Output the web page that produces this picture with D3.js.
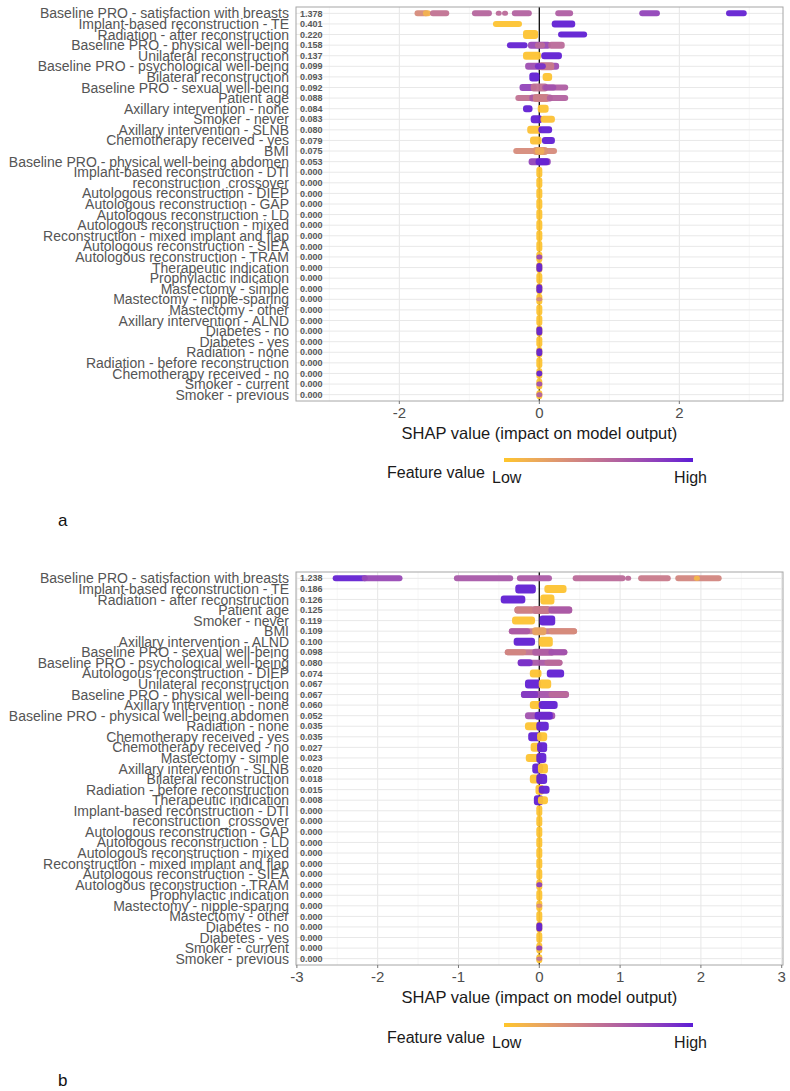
<!DOCTYPE html>
<html><head><meta charset="utf-8">
<script src="https://cdn.jsdelivr.net/npm/d3@7"></script>
<style>html,body{margin:0;padding:0;background:#fff}svg{display:block}</style>
</head><body>
<svg id="chart" width="790" height="1091"></svg>
<script>
// ---------- DATA ----------
const topFeatures = ["Baseline PRO - satisfaction with breasts","Implant-based reconstruction - TE","Radiation - after reconstruction","Baseline PRO - physical well-being","Unilateral reconstruction","Baseline PRO - psychological well-being","Bilateral reconstruction","Baseline PRO - sexual well-being","Patient age","Axillary intervention - none","Smoker - never","Axillary intervention - SLNB","Chemotherapy received - yes","BMI","Baseline PRO - physical well-being abdomen","Implant-based reconstruction - DTI","reconstruction_crossover","Autologous reconstruction - DIEP","Autologous reconstruction - GAP","Autologous reconstruction - LD","Autologous reconstruction - mixed","Reconstruction - mixed implant and flap","Autologous reconstruction - SIEA","Autologous reconstruction - TRAM","Therapeutic indication","Prophylactic indication","Mastectomy - simple","Mastectomy - nipple-sparing","Mastectomy - other","Axillary intervention - ALND","Diabetes - no","Diabetes - yes","Radiation - none","Radiation - before reconstruction","Chemotherapy received - no","Smoker - current","Smoker - previous"];
const topImportance = [1.378,0.401,0.220,0.158,0.137,0.099,0.093,0.092,0.088,0.084,0.083,0.080,0.079,0.075,0.053,0,0,0,0,0,0,0,0,0,0,0,0,0,0,0,0,0,0,0,0,0,0];
// clusters: [row, shapFrom, shapTo, featureValue(0 low..1 high), thickness]
const topClusters = [
 [15,0,0,0.02,11],[16,0,0,0.02,11],[17,0,0,0.02,11],[18,0,0,0.02,11],[19,0,0,0.02,11],[20,0,0,0.02,11],[21,0,0,0.02,11],[22,0,0,0.02,11],[23,0,0,0.02,11],[24,0,0,0.02,11],[25,0,0,0.02,11],[26,0,0,0.02,11],[27,0,0,0.02,11],[28,0,0,0.02,11],[29,0,0,0.02,11],[30,0,0,0.02,11],[31,0,0,0.02,11],[32,0,0,0.02,11],[33,0,0,0.02,11],[34,0,0,0.02,11],[35,0,0,0.02,11],[36,0,0,0.02,9],
 [0,-1.74,-1.62,0.35,6],[0,-1.62,-1.59,0.12,6],[0,-1.52,-1.33,0.5,6],[0,-0.92,-0.72,0.58,6],[0,-0.58,-0.58,0.55,5],[0,-0.49,-0.49,0.55,5],[0,-0.35,-0.15,0.6,6],[0,0.27,0.44,0.62,6],[0,1.47,1.68,0.78,6],[0,2.71,2.92,0.97,6],
 [1,-0.62,-0.29,0.02,6],[1,0.22,0.47,0.98,7],
 [2,-0.19,-0.06,0.02,9],[2,0.31,0.64,0.98,6],
 [3,-0.42,-0.21,0.97,6],[3,-0.12,0.12,0.75,7],[3,-0.02,0.04,0.55,6],[3,0.17,0.32,0.55,7],
 [4,-0.19,-0.02,0.02,8],[4,0.07,0.28,0.98,7],
 [5,-0.16,0.24,0.72,7],[5,0.03,0.17,0.45,8],[5,-0.02,0.05,0.9,6],
 [6,-0.10,-0.04,0.98,9],[6,0.09,0.14,0.02,8],
 [7,-0.24,-0.08,0.78,7],[7,-0.08,0.08,0.5,8],[7,0.08,0.37,0.62,6],[7,0.1,0.2,0.7,6],
 [8,-0.30,-0.1,0.5,6],[8,-0.1,0.15,0.65,7],[8,-0.05,0.1,0.42,8],[8,0.15,0.37,0.6,6],
 [9,-0.19,-0.14,0.98,7],[9,0.02,0.09,0.02,8],
 [10,-0.08,0.0,0.98,8],[10,0.06,0.18,0.03,7],
 [11,-0.13,-0.01,0.03,8],[11,0.03,0.14,0.98,7],
 [12,-0.09,-0.01,0.03,8],[12,0.08,0.18,0.98,7],
 [13,-0.33,0.21,0.35,6],[13,-0.05,0.08,0.3,8],[13,-0.02,0.03,0.15,7],
 [14,-0.11,0.12,0.78,7],[14,-0.01,0.1,0.97,7],
 [23,0,0,0.75,5],[24,0,0,0.97,9],[26,0,0,0.97,9],[27,0,0,0.35,4],[30,0,0,0.97,9],[32,0,0,0.97,8],[34,0,0,0.97,6],[35,0,0,0.7,5],[36,0,0,0.6,5]
];
const topTicks = [-2,0,2];
const topMinorTicks = [-3,-1,1,3];

const bottomFeatures = ["Baseline PRO - satisfaction with breasts","Implant-based reconstruction - TE","Radiation - after reconstruction","Patient age","Smoker - never","BMI","Axillary intervention - ALND","Baseline PRO - sexual well-being","Baseline PRO - psychological well-being","Autologous reconstruction - DIEP","Unilateral reconstruction","Baseline PRO - physical well-being","Axillary intervention - none","Baseline PRO - physical well-being abdomen","Radiation - none","Chemotherapy received - yes","Chemotherapy received - no","Mastectomy - simple","Axillary intervention - SLNB","Bilateral reconstruction","Radiation - before reconstruction","Therapeutic indication","Implant-based reconstruction - DTI","reconstruction_crossover","Autologous reconstruction - GAP","Autologous reconstruction - LD","Autologous reconstruction - mixed","Reconstruction - mixed implant and flap","Autologous reconstruction - SIEA","Autologous reconstruction - TRAM","Prophylactic indication","Mastectomy - nipple-sparing","Mastectomy - other","Diabetes - no","Diabetes - yes","Smoker - current","Smoker - previous"];
const bottomImportance = [1.238,0.186,0.126,0.125,0.119,0.109,0.100,0.098,0.080,0.074,0.067,0.067,0.060,0.052,0.035,0.035,0.027,0.023,0.020,0.018,0.015,0.008,0,0,0,0,0,0,0,0,0,0,0,0,0,0,0];
const bottomClusters = [
 [22,0,0,0.02,11],[23,0,0,0.02,11],[24,0,0,0.02,11],[25,0,0,0.02,11],[26,0,0,0.02,11],[27,0,0,0.02,11],[28,0,0,0.02,11],[29,0,0,0.02,11],[30,0,0,0.02,11],[31,0,0,0.02,11],[32,0,0,0.02,11],[33,0,0,0.02,11],[34,0,0,0.02,11],[35,0,0,0.02,11],[36,0,0,0.02,9],
 [0,-2.52,-2.16,0.97,6],[0,-2.16,-1.73,0.75,6],[0,-1.02,-0.36,0.66,6],[0,-0.24,0.12,0.64,6],[0,0.45,1.03,0.55,6],[0,1.10,1.10,0.55,5],[0,1.26,1.59,0.45,6],[0,1.72,2.22,0.38,6],[0,1.95,1.95,0.1,5],
 [1,-0.26,-0.08,0.98,9],[1,0.10,0.30,0.02,8],
 [2,-0.44,-0.21,0.98,8],[2,0.05,0.15,0.02,10],
 [3,-0.27,0.37,0.55,7],[3,-0.27,-0.1,0.4,7],[3,-0.05,0.1,0.45,8],[3,0.15,0.37,0.65,7],
 [4,-0.30,-0.09,0.02,8],[4,0.04,0.16,0.98,10],
 [5,-0.34,0.43,0.45,6],[5,-0.34,-0.15,0.65,6],[5,-0.05,0.05,0.2,8],[5,0.15,0.43,0.35,6],
 [6,-0.28,-0.09,0.98,8],[6,0.03,0.13,0.02,10],
 [7,-0.39,0.31,0.5,6],[7,-0.39,-0.2,0.38,6],[7,-0.05,0.15,0.62,7],[7,0.15,0.31,0.7,6],
 [8,-0.23,0.25,0.65,6],[8,-0.23,-0.12,0.9,7],[8,0.1,0.25,0.55,6],
 [9,-0.08,-0.01,0.02,8],[9,0.13,0.27,0.98,8],
 [10,-0.14,-0.02,0.98,9],[10,0.03,0.11,0.02,9],
 [11,-0.19,0.33,0.68,7],[11,-0.19,-0.05,0.85,7],[11,0.15,0.33,0.55,6],
 [12,-0.08,-0.01,0.02,8],[12,0.03,0.19,0.98,8],
 [13,-0.14,0.16,0.7,7],[13,-0.02,0.13,0.95,8],
 [14,-0.14,-0.02,0.02,8],[14,0.0,0.08,0.98,9],
 [15,-0.10,-0.01,0.98,9],[15,0.01,0.06,0.02,9],
 [16,-0.07,0.0,0.02,9],[16,0.01,0.06,0.98,10],
 [17,-0.13,-0.01,0.02,8],[17,0.0,0.05,0.98,10],
 [18,-0.05,0.01,0.98,10],[18,0.02,0.07,0.02,10],
 [19,-0.08,0.0,0.02,9],[19,0.0,0.06,0.98,10],
 [20,-0.01,0.02,0.02,10],[20,0.03,0.09,0.98,8],
 [21,-0.03,0.01,0.98,10],[21,0.02,0.07,0.02,8],
 [29,0,0,0.8,5],[31,0,0,0.35,4],[33,0,0,0.98,9],[35,0,0,0.8,5],[36,0,0,0.5,4]
];
const bottomTicks = [-3,-2,-1,0,1,2,3];
const bottomMinorTicks = [-2.5,-1.5,-0.5,0.5,1.5,2.5];

const xTitle = "SHAP value (impact on model output)";
const legendTitle = "Feature value", legendLow = "Low", legendHigh = "High";

// ---------- DRAW ----------
const svg = d3.select("#chart");
const FONT = "'Liberation Sans', Arial, Helvetica, sans-serif";
const color = d3.scaleLinear().domain([0,1]).range(["#FFC629","#5A1CD6"]).interpolate(d3.interpolateLab);

const defs = svg.append("defs");
const grad = defs.append("linearGradient").attr("id","lg");
d3.range(0,1.0001,0.1).forEach(t=>grad.append("stop").attr("offset",t).attr("stop-color",color(t)));

function panel(cfg){
  const g = svg.append("g");
  const x = d3.scaleLinear().domain(cfg.domain).range([cfg.left,cfg.right]);
  const y = d3.scalePoint().domain(d3.range(cfg.features.length)).range([cfg.top,cfg.bottom]).padding(0.6);
  // grid
  g.selectAll(".vmin").data(cfg.minor).join("line").attr("x1",d=>x(d)).attr("x2",d=>x(d)).attr("y1",cfg.top).attr("y2",cfg.bottom).attr("stroke","#f2f2f2").attr("stroke-width",0.6);
  g.selectAll(".vmaj").data(cfg.ticks).join("line").attr("x1",d=>x(d)).attr("x2",d=>x(d)).attr("y1",cfg.top).attr("y2",cfg.bottom).attr("stroke","#e6e6e6").attr("stroke-width",1);
  g.selectAll(".hmaj").data(y.domain()).join("line").attr("x1",cfg.left).attr("x2",cfg.right).attr("y1",d=>y(d)).attr("y2",d=>y(d)).attr("stroke","#e8e8e8").attr("stroke-width",1);
  // zero line
  g.append("line").attr("x1",x(0)).attr("x2",x(0)).attr("y1",cfg.top).attr("y2",cfg.bottom).attr("stroke","#111").attr("stroke-width",1.3);
  // clusters
  const r = 3;
  g.selectAll(".cl").data(cfg.clusters).join("rect")
    .attr("x",d=>x(d[1])-r).attr("width",d=>x(d[2])-x(d[1])+2*r)
    .attr("y",d=>y(d[0])-d[4]/2).attr("height",d=>d[4])
    .attr("rx",d=>Math.min(r,d[4]/2)).attr("ry",d=>Math.min(r,d[4]/2))
    .attr("fill",d=>color(d[3])).attr("fill-opacity",0.95);
  // border
  g.append("rect").attr("x",cfg.left).attr("y",cfg.top).attr("width",cfg.right-cfg.left).attr("height",cfg.bottom-cfg.top).attr("fill","none").attr("stroke","#a6a6a6").attr("stroke-width",1);
  // importance labels
  g.selectAll(".imp").data(cfg.importance).join("text")
    .attr("x",cfg.left+4).attr("y",(d,i)=>y(i)).attr("dy","0.35em")
    .attr("font-family",FONT).attr("font-size",9).attr("font-weight","bold").attr("fill","#595959")
    .text(d=>d.toFixed(3));
  // feature labels
  g.selectAll(".feat").data(cfg.features).join("text")
    .attr("x",cfg.left-7).attr("y",(d,i)=>y(i)).attr("dy","0.36em").attr("text-anchor","end")
    .attr("font-family",FONT).attr("font-size",14).attr("fill","#555555").text(d=>d);
  // x axis ticks
  g.selectAll(".tk").data(cfg.ticks).join("line").attr("x1",d=>x(d)).attr("x2",d=>x(d)).attr("y1",cfg.bottom).attr("y2",cfg.bottom+3).attr("stroke","#777");
  g.selectAll(".tl").data(cfg.ticks).join("text").attr("x",d=>x(d)).attr("y",cfg.bottom+17).attr("text-anchor","middle")
    .attr("font-family",FONT).attr("font-size",15).attr("fill","#4d4d4d").text(d=>d3.format("d")(d).replace("−","-"));
  g.append("text").attr("x",(cfg.left+cfg.right)/2).attr("y",cfg.bottom+38).attr("text-anchor","middle")
    .attr("font-family",FONT).attr("font-size",16.5).attr("fill","#1a1a1a").text(xTitle);
  // legend
  g.append("rect").attr("x",cfg.legX0).attr("y",cfg.legY).attr("width",cfg.legX1-cfg.legX0).attr("height",4).attr("fill","url(#lg)");
  g.append("text").attr("x",387).attr("y",cfg.legY+20).attr("font-family",FONT).attr("font-size",16).attr("fill","#1a1a1a").text(legendTitle);
  g.append("text").attr("x",492).attr("y",cfg.legY+25).attr("font-family",FONT).attr("font-size",16).attr("fill","#1a1a1a").text(legendLow);
  g.append("text").attr("x",707).attr("y",cfg.legY+25).attr("text-anchor","end").attr("font-family",FONT).attr("font-size",16).attr("fill","#1a1a1a").text(legendHigh);
  g.append("text").attr("x",58).attr("y",cfg.letterY).attr("font-family",FONT).attr("font-size",17).attr("fill","#111").text(cfg.letter);
}

panel({features:topFeatures, importance:topImportance, clusters:topClusters, ticks:topTicks, minor:topMinorTicks,
  top:7, bottom:401, left:296, right:783, domain:[-3.476,3.481], legX0:504, legX1:693, legY:458, letter:"a", letterY:526});
panel({features:bottomFeatures, importance:bottomImportance, clusters:bottomClusters, ticks:bottomTicks, minor:bottomMinorTicks,
  top:572, bottom:965, left:296, right:783, domain:[-3.011,3.016], legX0:504, legX1:693, legY:1023, letter:"b", letterY:1086});
</script>
</body></html>
